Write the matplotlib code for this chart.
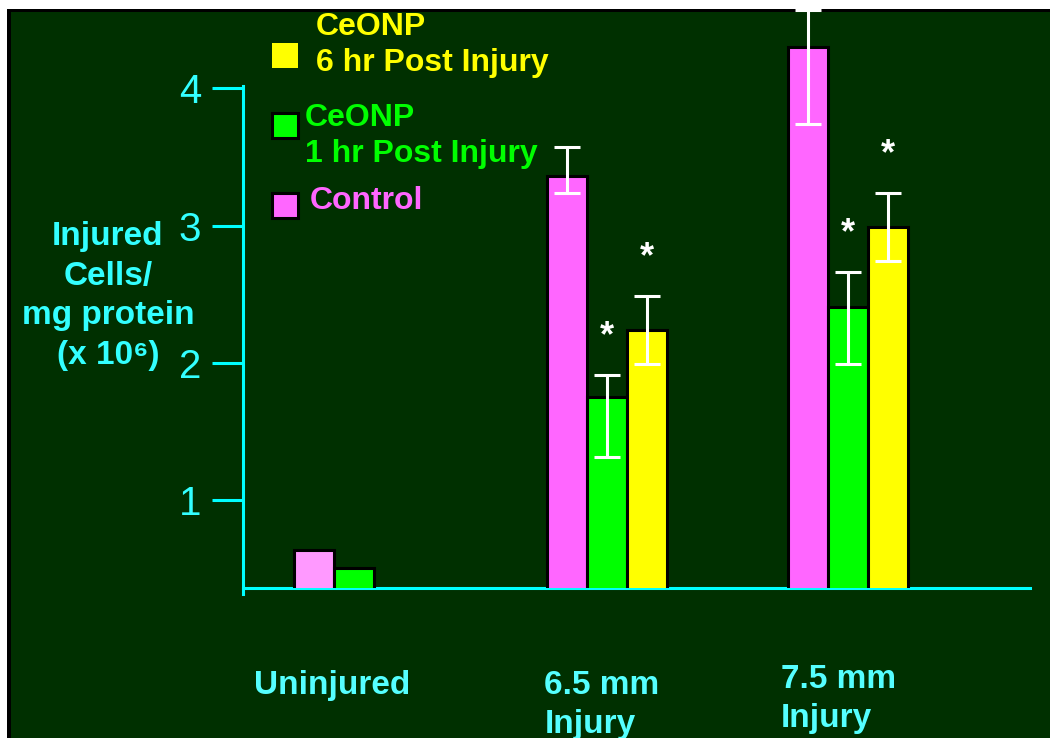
import numpy as np
import matplotlib.pyplot as plt
from matplotlib.patches import Rectangle
from matplotlib.transforms import blended_transform_factory

plt.rcParams['font.family'] = ['Liberation Sans', 'DejaVu Sans']

# data (injured cells / mg protein, x 10^6)
groups = ['Uninjured', '6.5 mm\nInjury', '7.5 mm\nInjury']
series = ['Control', 'CeONP\n1 hr Post Injury', 'CeONP\n6 hr Post Injury']
control = [0.64, 3.36, 4.30]
ceonp_1hr = [0.51, 1.75, 2.41]
ceonp_6hr = [np.nan, 2.24, 2.99]
control_lo = [np.nan, 3.24, 3.74]
control_hi = [np.nan, 3.57, 4.57]
ceonp_1hr_lo = [np.nan, 1.32, 1.99]
ceonp_1hr_hi = [np.nan, 1.91, 2.66]
ceonp_6hr_lo = [np.nan, 1.99, 2.74]
ceonp_6hr_hi = [np.nan, 2.49, 3.24]
signif_1hr = [False, True, True]
signif_6hr = [False, True, True]
yticks = [1, 2, 3, 4]

W, H = 1050, 738
BG = '#003000'
CYAN = '#00FFFF'
TXT = '#33FFFF'
col_ctrl = ['#FF99FF', '#FF66FF', '#FF66FF']
col_1hr = '#00FF00'
col_6hr = '#FFFF00'


def fx(px):
    return px / W


def fy(py):
    return 1 - py / H


fig = plt.figure(figsize=(W / 100, H / 100), dpi=100, facecolor='white')
# black frame + dark green screen
fig.patches.append(Rectangle((fx(7), 0), 1, fy(9), transform=fig.transFigure,
                             facecolor='black', edgecolor='none', zorder=-3))
fig.patches.append(Rectangle((fx(11), 0), 1, fy(12), transform=fig.transFigure,
                             facecolor=BG, edgecolor='none', zorder=-2))

ax = fig.add_axes([fx(243), fy(588), fx(1030 - 243), 588 / H])
ax.set_facecolor('none')
ax.set_xlim(0, 787 / 241)
ax.set_ylim(0.363, 4.643)

xc = np.array([0.46, 1.51, 2.51])
bw = 0.165
off = 0.165

ax.bar(xc - off, control, bw, color=col_ctrl, edgecolor='black', linewidth=2.2, zorder=3)
ax.bar(xc, ceonp_1hr, bw, color=col_1hr, edgecolor='black', linewidth=2.2, zorder=3)
ax.bar(xc + off, ceonp_6hr, bw, color=col_6hr, edgecolor='black', linewidth=2.2, zorder=3)

for xs, vals, lo, hi in [(xc - off, control, control_lo, control_hi),
                         (xc, ceonp_1hr, ceonp_1hr_lo, ceonp_1hr_hi),
                         (xc + off, ceonp_6hr, ceonp_6hr_lo, ceonp_6hr_hi)]:
    v = np.array(vals)
    err = [v - np.array(lo), np.array(hi) - v]
    _, caps, bars = ax.errorbar(xs, v, yerr=err, fmt='none', ecolor='white',
                                elinewidth=2.2, capsize=9.5, capthick=2.2, zorder=5)
    for c in caps:
        c.set_color('#E4E4F0')
        c.set_clip_on(False)
    for b in bars:
        b.set_clip_on(False)

# significance stars
for xs, hi, sig in [(xc, ceonp_1hr_hi, signif_1hr), (xc + off, ceonp_6hr_hi, signif_6hr)]:
    for x, h, s in zip(xs, hi, sig):
        if s:
            ax.text(x, h + 0.28, '*', ha='center', va='center', color='white',
                    fontsize=26, fontweight='bold', zorder=6)

# axes styling
for s in ['top', 'right']:
    ax.spines[s].set_visible(False)
ax.spines['left'].set_color(CYAN)
ax.spines['left'].set_linewidth(2.2)
ax.spines['left'].set_bounds(0.32, 4.02)
ax.spines['bottom'].set_color(CYAN)
ax.spines['bottom'].set_linewidth(2.2)
ax.spines['bottom'].set_zorder(2)
ax.set_xticks([])
ax.set_yticks(yticks)
ax.set_yticklabels([str(t) for t in yticks])
ax.tick_params(axis='y', direction='out', length=22, width=2.2, color=CYAN,
               labelcolor=TXT, labelsize=29, pad=8)

# category labels
trans = blended_transform_factory(ax.transData, fig.transFigure)
label_x = [0.37, 1.49, 2.47]
label_top = [670, 670, 664]
for g, lx, lt in zip(groups, label_x, label_top):
    ax.text(lx, fy(lt), g, transform=trans, ha='center', va='top', multialignment='left',
            color='#55FFFF', fontsize=24, fontweight='bold', linespacing=1.35)

# y label
fig.text(fx(108), fy(296), 'Injured\nCells/\nmg protein\n(x 10\u2076)', ha='center', va='center',
         multialignment='center', color=TXT, fontsize=24, fontweight='bold', linespacing=1.36)

# legend drawn by hand
leg = [(series[2], col_6hr, 'none', 43, 316, 45),
       (series[1], col_1hr, 'black', 113, 305, 136),
       (series[0], col_ctrl[1], 'black', 193, 310, 201)]
for name, c, ec, sq_top, tx, ty in leg:
    fig.patches.append(Rectangle((fx(272), fy(sq_top + 25)), 26 / W, 25 / H,
                                 transform=fig.transFigure, facecolor=c, edgecolor=ec,
                                 linewidth=2.2, zorder=3))
    fig.text(fx(tx), fy(ty), name, ha='left', va='center', color=c,
             fontsize=23, fontweight='bold', linespacing=1.27)

fig.savefig('out.png', dpi=100, facecolor=fig.get_facecolor())
